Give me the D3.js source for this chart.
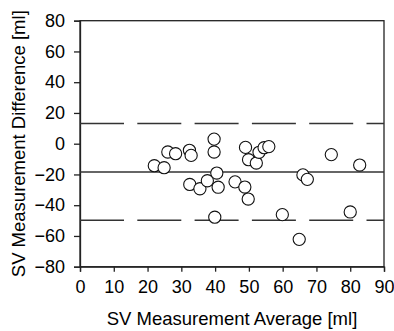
<!doctype html>
<html>
  <head>
    <meta http-equiv="Content-Type" content="text/html; charset=utf-8" />
    <title>SV Bland-Altman</title>
    <style>
      html, body { margin: 0; padding: 0; background: #fff; }
      svg { display: block; }
      text { font-family: "Liberation Sans", Arial, sans-serif; fill: #000; }
    </style>
  </head>
  <body>
    <svg id="chart" width="394" height="331"></svg>
    <script src="https://d3js.org/d3.v7.min.js"></script>
    <script>
      var avgValues = [22.0, 24.9, 26.0, 28.3, 32.4, 32.9, 32.5, 35.5, 37.7, 39.7, 39.7, 40.5, 40.9, 39.9, 45.9,
        49.0, 48.8, 49.9, 49.8, 52.2, 53.0, 54.5, 55.9, 59.9, 64.9, 66.0, 67.3, 74.4, 80.0, 82.8]
      var diffValues = [-14.3, -15.6, -5.4, -6.5, -4.3, -7.6, -26.5, -29.3, -24.1, 3.0, -5.4, -19.1, -28.3, -47.8, -24.8,
        -2.4, -28.2, -10.4, -36.0, -12.6, -5.6, -2.6, -1.9, -46.1, -62.2, -20.3, -23.2, -7.1, -44.4, -13.9]
      var meanDiff = -18.4
      var upperLimit = 13.1
      var lowerLimit = -49.8
      var xTicks = [0, 10, 20, 30, 40, 50, 60, 70, 80, 90]
      var yTicks = [-80, -60, -40, -20, 0, 20, 40, 60, 80]

      var svg = d3.select("#chart"),
        margin = {top: 20.7, right: 10, bottom: 64.3, left: 80},
        width = +svg.attr("width") - margin.left - margin.right,
        height = +svg.attr("height") - margin.top - margin.bottom,
        g = svg.append("g").attr("transform", "translate(" + margin.left + "," + margin.top + ")");

      var x = d3.scaleLinear().domain([0, 90]).range([0, width]);
      var y = d3.scaleLinear().domain([-80, 80]).range([height, 0]);

      // frame
      g.append("rect")
          .attr("width", width)
          .attr("height", height)
          .attr("fill", "none")
          .attr("stroke", "#222")
          .attr("stroke-width", 1.3);

      var xAxis = g.append("g")
          .attr("transform", "translate(0," + height + ")")
          .call(d3.axisBottom(x).tickValues(xTicks).tickSize(5).tickPadding(9));

      var yAxis = g.append("g")
          .call(d3.axisLeft(y).tickValues(yTicks).tickSize(6).tickPadding(9));

      [xAxis, yAxis].forEach(function (a) {
        a.select(".domain").attr("stroke", "#222").attr("stroke-width", 1.3);
        a.selectAll(".tick line").attr("stroke", "#222").attr("stroke-width", 1.3);
        a.selectAll(".tick text")
            .attr("font-family", "Liberation Sans, Arial, sans-serif")
            .attr("font-size", 18)
            .attr("fill", "#000");
      });

      // mean and limits of agreement
      g.append("line")
          .attr("x1", 0).attr("x2", width)
          .attr("y1", y(meanDiff)).attr("y2", y(meanDiff))
          .attr("stroke", "#333")
          .attr("stroke-width", 1.5);

      [upperLimit, lowerLimit].forEach(function (v) {
        g.append("line")
            .attr("x1", 0).attr("x2", width)
            .attr("y1", y(v)).attr("y2", y(v))
            .attr("stroke", "#333")
            .attr("stroke-width", 1.5)
            .attr("stroke-dasharray", "44,13.3");
      });

      var points = avgValues.map(function (a, i) { return {avg: a, diff: diffValues[i]}; });

      g.selectAll("circle")
          .data(points)
          .enter().append("circle")
          .attr("cx", function (d) { return x(d.avg); })
          .attr("cy", function (d) { return y(d.diff); })
          .attr("r", 6.1)
          .attr("fill", "#fff")
          .attr("stroke", "#111")
          .attr("stroke-width", 1.1);

      svg.append("text")
          .attr("x", margin.left + width / 2)
          .attr("y", 325)
          .attr("text-anchor", "middle")
          .attr("font-size", 18.5)
          .text("SV Measurement Average [ml]");

      svg.append("text")
          .attr("transform", "translate(25," + (margin.top + height / 2) + ") rotate(-90)")
          .attr("text-anchor", "middle")
          .attr("font-size", 18.5)
          .text("SV Measurement Difference [ml]");
    </script>
  </body>
</html>
